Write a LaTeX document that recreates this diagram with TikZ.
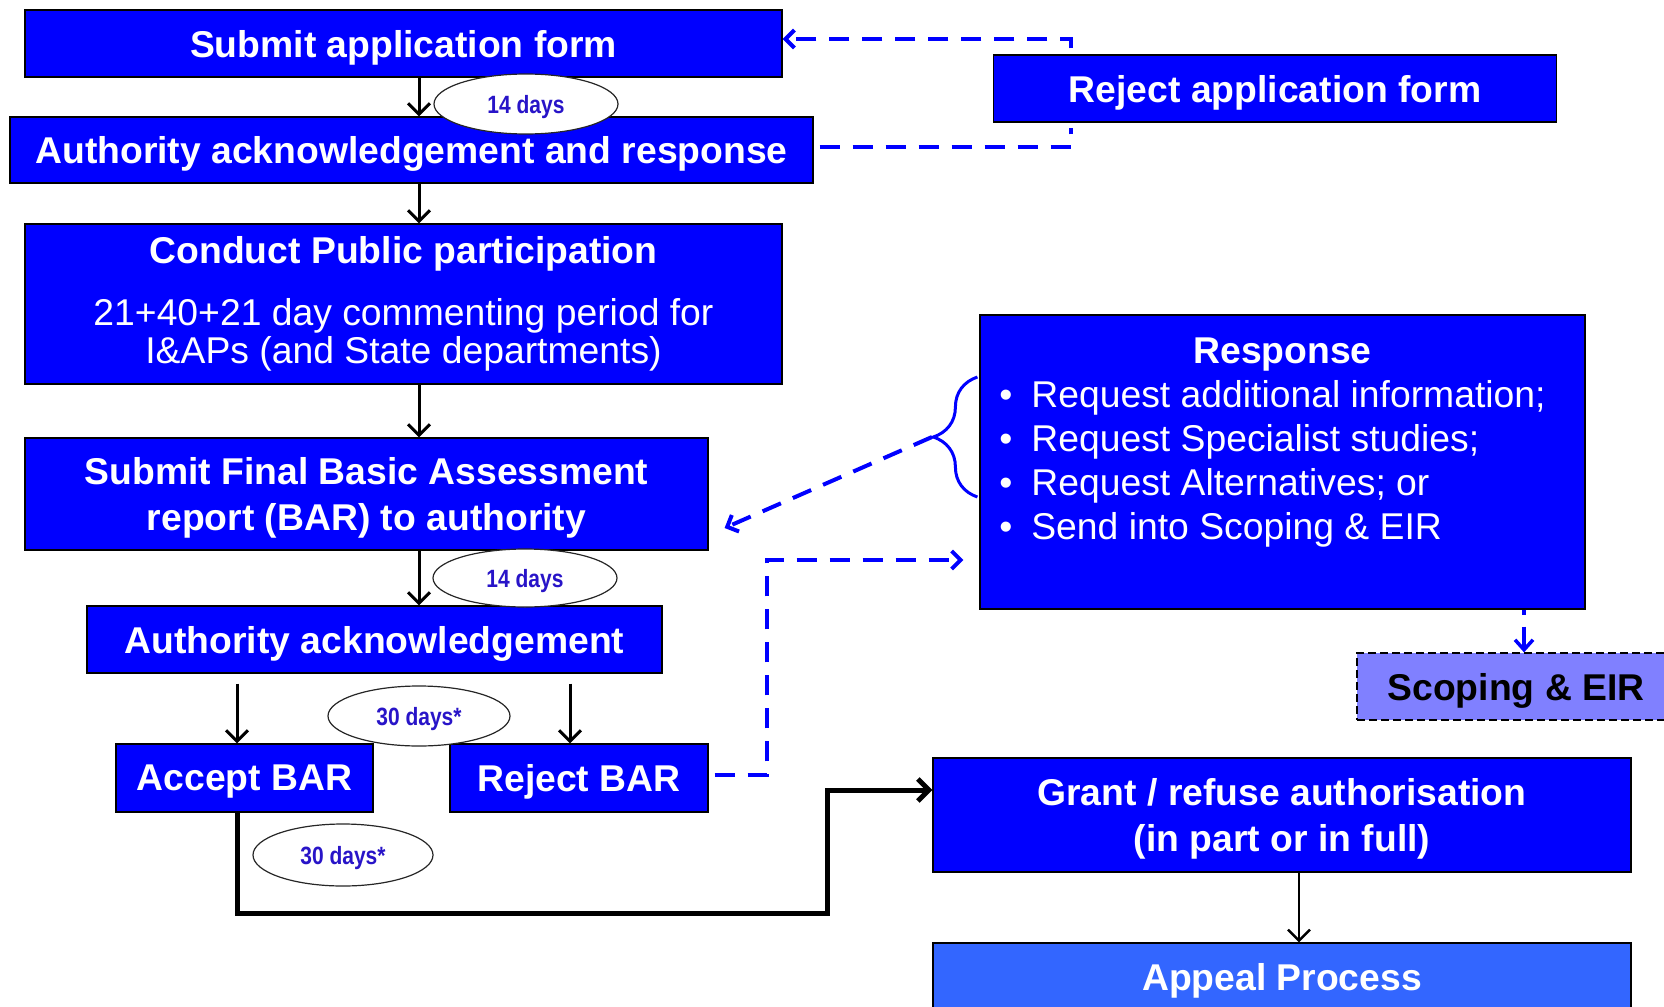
\documentclass[tikz,border=0pt]{standalone}
\usepackage{fontspec}
\setmainfont{Liberation Sans}
\newfontfamily\narrowfont[FakeStretch=0.84]{Liberation Sans}
\usetikzlibrary{arrows.meta,calc,shapes.geometric,decorations.pathreplacing}
\definecolor{boxblue}{RGB}{0,0,255}
\definecolor{appealblue}{RGB}{51,102,255}
\definecolor{scopeblue}{RGB}{128,128,255}
\definecolor{daysblue}{RGB}{40,20,200}
\newcommand{\respitem}[1]{\makebox[32pt][l]{\textbullet}#1}
\tikzset{
  box/.style={draw=black, line width=1.2pt, fill=boxblue, text=white, inner sep=0pt,
    text depth=0pt, align=center, font=\fontsize{37.3}{44}\selectfont\bfseries},
  scopebox/.style={draw=black, line width=1.2pt, dash pattern=on 8pt off 4pt, fill=scopeblue,
    text=black, inner sep=0pt, text depth=0pt, font=\fontsize{37.3}{44}\selectfont\bfseries},
  days/.style={ellipse, draw=black!85, line width=1.2pt, fill=white, inner sep=0pt, text depth=0pt,
    text=daysblue, font=\narrowfont\fontsize{25}{28}\selectfont\bfseries},
  flow/.style={-{Straight Barb[length=11pt,width=22pt]}, line width=3pt},
  dashline/.style={blue, line width=4pt, dash pattern=on 20pt off 13pt},
  dashflow/.style={dashline, -{Straight Barb[length=9pt,width=18pt]}},
  bracket/.style={blue, line width=3pt, decorate, decoration={brace, amplitude=44pt}}
}
\begin{document}
\begin{tikzpicture}[x=1pt,y=-1pt]
  \useasboundingbox (0,0) rectangle (1664,1006);
  \clip (0,0) rectangle (1664,1006);
  % main column
  \node[box, minimum width=757pt, minimum height=67pt] (submitapp) at (403.5,43.5) {Submit application form};
  \node[box, minimum width=803pt, minimum height=66pt] (ackresp) at (411.5,150) {Authority acknowledgement and response};
  \node[box, text depth=8pt, minimum width=757pt, minimum height=160pt] (conduct) at (403.5,304)
    {Conduct Public participation\\[18pt]\mdseries 21+40+21 day commenting period for\\[-6pt]\mdseries I\&APs (and State departments)};
  \node[box, minimum width=683pt, minimum height=112pt] (finalbar) at (366.5,494)
    {Submit Final Basic Assessment\\[2pt]report (BAR) to authority};
  \node[box, minimum width=575pt, minimum height=67pt] (ack) at (374.5,639.5) {Authority acknowledgement};
  \node[box, minimum width=257pt, minimum height=68pt] (acceptbar) at (244.5,778) {Accept BAR};
  \node[box, minimum width=258pt, minimum height=68pt] (rejectbar) at (579,778) {Reject BAR};
  % right side
  \node[box, minimum width=563pt, minimum height=67pt] (rejectapp) at (1275,88.5) {Reject application form};
  \node[box, minimum width=605pt, minimum height=294pt] (resp) at (1282.5,462) {};
  \node[text=white, inner sep=0pt, font=\fontsize{37.3}{44}\selectfont, anchor=north] (resplist)
    at ($(resp.north)+(-10,18)$) {\begin{tabular}{@{}l@{}}
      \multicolumn{1}{@{}c@{}}{\hspace*{20pt}\bfseries Response}\\
      \respitem{Request additional information;}\\
      \respitem{Request Specialist studies;}\\
      \respitem{Request Alternatives; or}\\
      \respitem{Send into Scoping \& EIR}
    \end{tabular}};
  \node[scopebox, minimum width=318pt, minimum height=67pt] (scoping) at (1516,686.5) {Scoping \& EIR};
  \node[box, minimum width=698pt, minimum height=114pt] (grant) at (1282,815)
    {Grant / refuse authorisation\\[2pt](in part or in full)};
  \node[box, fill=appealblue, minimum width=698pt, minimum height=67pt] (appeal) at (1282,976.5) {Appeal Process};

  % solid arrows
  \coordinate (spine) at (419,0);
  \draw[flow] (submitapp.south -| spine) -- (ackresp.north -| spine);
  \draw[flow] (ackresp.south -| spine) -- (conduct.north -| spine);
  \draw[flow] (conduct.south -| spine) -- (finalbar.north -| spine);
  \draw[flow] (finalbar.south -| spine) -- (ack.north -| spine);
  \draw[flow] ($(ack.south)+(-137.5,10)$) -- ($(acceptbar.north)+(-7.5,0)$);
  \draw[flow] ($(ack.south)+(195.5,10)$) -- ($(rejectbar.north)+(-9,0)$);
  \coordinate (turn) at (827,913);
  \draw[flow, line width=5pt] ($(acceptbar.south)+(-7.5,0)$) |- (turn) |- ($(grant.west)+(0,-25)$);
  \draw[flow, line width=2.5pt] ($(grant.south)+(17,0)$) -- ($(appeal.north)+(17,0)$);

  % dashed loops
  \coordinate (rejx) at (1071,0);
  \draw[dashline] ($(ackresp.east)+(6,-3)$) -| ($(rejectapp.south -| rejx)+(0,5)$);
  \draw[dashflow] ($(rejectapp.north -| rejx)+(0,-6)$) |- ($(submitapp.east)+(0,-4.5)$);
  \coordinate (loop) at (767,560);
  \draw[dashflow] ($(rejectbar.east)+(6,-3)$) -| (loop) -- ($(loop -| resp.west)+(-16,0)$);
  \draw[bracket] ($(resp.west)+(-2,35)$) -- ($(resp.west)+(-2,-85)$);
  \coordinate (bracetip) at (932,437);
  \draw[dashflow] (bracetip) -- ($(finalbar.east)+(16,34)$);
  \coordinate (scopex) at (1524,0);
  \draw[blue, line width=3.5pt, dash pattern=on 5pt off 12pt on 40pt, -{Straight Barb[length=10pt,width=18pt]}]
    (resp.south -| scopex) -- (scoping.north -| scopex);

  % time labels
  \node[days, minimum width=184pt, minimum height=60pt] (days1) at (526,104) {14 days};
  \node[days, minimum width=184pt, minimum height=58pt] (days2) at (525,578) {14 days};
  \node[days, minimum width=182pt, minimum height=60pt] (days3) at (419,716) {30 days*};
  \node[days, minimum width=180pt, minimum height=62pt] (days4) at (343,855) {30 days*};
\end{tikzpicture}
\end{document}
